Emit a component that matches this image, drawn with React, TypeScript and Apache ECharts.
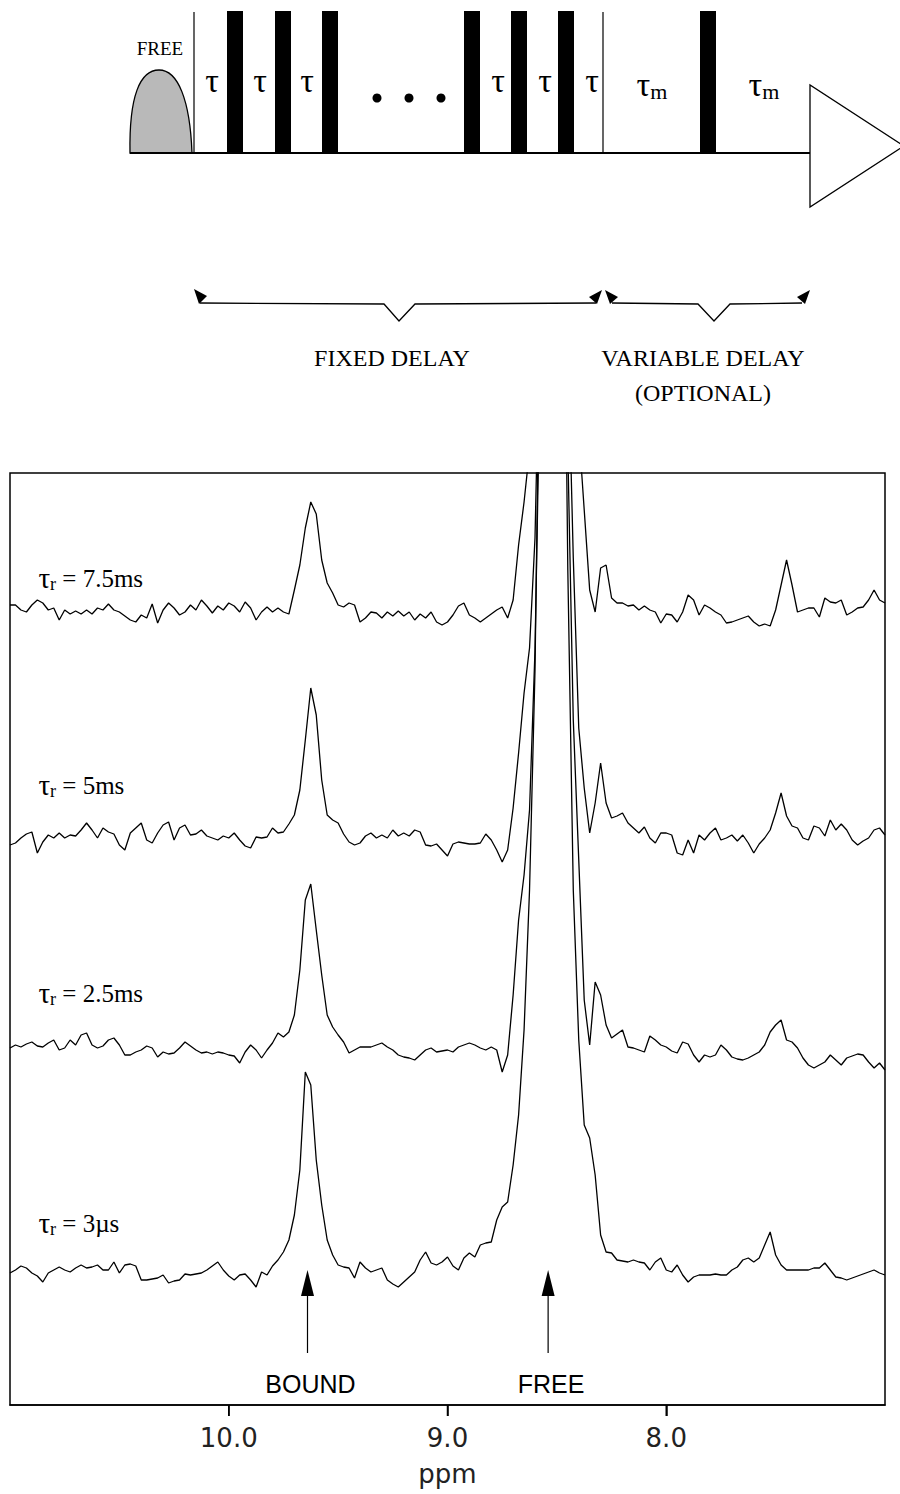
import React, { useEffect, useRef } from "react";
import * as echarts from "echarts";

// ---------------- data ----------------
// sampling grid of the spectra (ppm, decreasing to the right)
const PPM_START = 11.0;
const PPM_STEP = 0.025;
const PPM_MIN = 7.0;
const PPM_MAX = 11.0;
const PPM_TICKS = [10, 9, 8];

const TRACE_LABELS = ["7.5ms", "5ms", "2.5ms", "3µs"];
// vertical stacking offset of every trace (intensity units)
const TRACE_OFFSETS = [795, 567, 355, 135];
const TRACE_LABEL_PPM = 10.87;
const TRACE_LABEL_Y = [827, 620, 412, 182];

// intensities, relative to each trace's baseline
const TRACE_7_5MS = [
  5, 5, 0, -2, 5, 10, 7, 0, 2, -10,
  0, -4, -1, -4, 0, -4, 2, 0, 6, 0,
  -2, -6, -10, -12, -5, -8, 6, -13, 0, 7,
  2, -5, -2, 5, 0, 10, 4, -3, 4, 0,
  7, 4, -2, 8, 2, -10, -2, 3, -2, 2,
  -2, -4, 20, 45, 82, 108, 96, 50, 27, 17,
  5, 3, 7, 5, -12, -8, -2, -3, -8, -2,
  -6, -1, -6, -2, -10, -4, -8, -2, -12, -15,
  -12, -5, 4, 7, -5, -8, -12, -8, -4, 0,
  3, -8, 10, 65, 108, 160, 250, 500, 900, 1300,
  1200, 800, 450, 280, 180, 100, 20, -2, 42, 45,
  12, 7, 7, 4, 5, 0, 4, 0, -2, -13,
  -4, -5, -12, -2, 15, 10, -5, 5, 2, -2,
  -5, -13, -12, -10, -8, -6, -12, -16, -14, -16,
  0, 25, 50, 25, -2, 0, 2, 2, -7, 12,
  8, 7, 10, -5, -2, 2, 3, 10, 20, 10, 7,
];
const TRACE_5MS = [
  -7, -5, 0, 4, 6, -15, -4, 3, 0, 5,
  0, 3, 2, 8, 15, 8, 0, 10, 6, 4,
  -7, -12, 5, 10, 15, -2, -5, 5, 13, 16,
  -2, 10, 13, 3, 4, 8, 2, 0, -2, 2,
  0, 5, -2, -8, -10, 1, 0, 1, 10, 5,
  6, 14, 23, 48, 98, 150, 123, 58, 23, 18,
  15, 4, -4, -7, -5, 2, 5, 0, 3, 0,
  8, 2, 5, 2, 8, 6, -7, -8, -6, -12,
  -18, -6, -4, -5, -6, -6, -5, 4, -2, -12,
  -24, -12, 30, 85, 145, 190, 300, 550, 1000, 1400,
  1300, 850, 500, 280, 110, 50, 5, 35, 75, 35,
  20, 22, 25, 15, 10, 5, 11, 0, -5, 5,
  5, 3, -15, -17, -2, -15, 3, -2, 5, 10,
  -2, 0, 3, -3, 3, -5, -15, -6, 0, 8,
  25, 45, 22, 12, 10, 0, -2, 12, 10, 2,
  18, 8, 14, 8, -2, -7, -3, 0, 8, 10, 3,
];
const TRACE_2_5MS = [
  2, 5, 3, 6, 8, 4, 3, 7, 10, 0,
  2, 10, 5, 15, 17, 5, 2, 4, 10, 12,
  5, -5, -5, -2, 0, 4, 2, -7, -2, -4,
  -3, 2, 8, 4, 0, -3, -2, -4, -2, -3,
  -5, -6, -13, -2, 5, 0, -8, 0, 7, 17,
  13, 18, 35, 80, 150, 166, 120, 75, 35, 23,
  15, 8, -3, 0, 3, 3, 3, 5, 7, 3,
  0, -5, -7, -8, -10, -5, 0, 2, -2, -1,
  0, -2, 3, 5, 7, 5, 2, 0, 3, 0,
  -22, -5, 55, 130, 175, 240, 400, 700, 1200, 1600,
  1500, 1000, 600, 330, 190, 50, 5, 68, 55, 25,
  12, 16, 20, 3, 2, 0, -2, 14, 10, 5,
  3, -1, -3, 8, 6, -5, -12, -5, -7, -5,
  5, 0, -7, -9, -10, -8, -5, -2, 5, 18,
  25, 30, 10, 8, 2, -8, -15, -18, -15, -12,
  -5, -10, -15, -8, -6, -4, -5, -12, -18, -13, -20,
];
const TRACE_3US = [
  -3, 0, 4, 2, -3, -6, -12, -3, 0, 3,
  0, -2, 2, 5, 2, 3, 5, 0, 0, 8,
  -3, 5, 6, 4, -10, -10, -9, -8, -5, -13,
  -11, -10, -4, -5, -4, -3, 0, 4, 8, 0,
  -6, -10, -5, -4, -10, -17, -2, -5, 4, 10,
  18, 30, 55, 100, 198, 185, 110, 65, 30, 15,
  5, 3, 2, -8, 8, 2, -2, 0, 2, -10,
  -14, -17, -12, -7, -2, 10, 18, 7, 5, 8,
  13, 4, 0, 12, 17, 13, 25, 27, 28, 50,
  63, 68, 105, 155, 240, 380, 600, 1000, 1500, 1900,
  1800, 1200, 700, 380, 230, 145, 132, 95, 35, 18,
  17, 10, 9, 8, 10, 8, 7, 0, 8, 12,
  0, -2, 5, -5, -12, -7, -5, -5, -5, -4,
  -5, -5, 0, 3, 10, 12, 8, 12, 25, 38,
  15, 5, 0, 0, 0, 0, 0, 2, 2, 7,
  0, -7, -8, -10, -8, -6, -4, -2, 0, -3, -5,
];
const TRACES = [TRACE_7_5MS, TRACE_5MS, TRACE_2_5MS, TRACE_3US];

// annotation arrows under the peaks
const ARROW_PPM = [9.64, 8.54];
const ARROW_LABELS = ["BOUND", "FREE"];

// pulse-sequence labels
const TAU = "τ";
const SEQ_LABELS = ["FIXED DELAY", "VARIABLE DELAY", "(OPTIONAL)"];

// ---------------- shapes ----------------
echarts.graphic.registerShape(
  "freePulse",
  echarts.graphic.extendPath(
    "M130 153 C129 96 140 70 159 70 C178 70 190 100 192 153 Z",
    {}
  )
);

const SERIF = "'Liberation Serif', 'Times New Roman', serif";
const SANS = "'Liberation Sans', Arial, sans-serif";
const THIN = "'DejaVu Sans', sans-serif";

function pulseDiagram(): any[] {
  const els: any[] = [];
  const black = "#000";
  els.push({
    type: "freePulse",
    style: { fill: "#b9b9b9", stroke: black, lineWidth: 1.3 },
  });
  els.push({
    type: "text",
    style: { text: "FREE", x: 160, y: 48, align: "center", verticalAlign: "middle", font: `19px ${SERIF}`, fill: black },
  });
  els.push({ type: "line", shape: { x1: 130, y1: 153, x2: 811, y2: 153 }, style: { stroke: black, lineWidth: 2 } });
  [194, 603].forEach((x) =>
    els.push({ type: "line", shape: { x1: x, y1: 12, x2: x, y2: 153 }, style: { stroke: black, lineWidth: 1.2 } })
  );
  [227, 275, 322, 464, 511, 558, 700].forEach((x) =>
    els.push({ type: "rect", shape: { x, y: 11, width: 16, height: 142 }, style: { fill: black } })
  );
  [212, 260, 307, 498, 545, 592].forEach((x) =>
    els.push({
      type: "text",
      style: { text: TAU, x, y: 80, align: "center", verticalAlign: "middle", font: `34px ${SERIF}`, fill: black },
    })
  );
  [652, 764].forEach((x) =>
    els.push({
      type: "text",
      style: {
        text: `{t|${TAU}}{s|m}`,
        x,
        y: 84,
        align: "center",
        verticalAlign: "middle",
        rich: {
          t: { fontSize: 34, fontFamily: SERIF, fill: black },
          s: { fontSize: 22, fontFamily: SERIF, fill: black, padding: [14, 0, 0, 0] },
        },
      },
    })
  );
  [377, 409, 441].forEach((x) =>
    els.push({ type: "circle", shape: { cx: x, cy: 98, r: 4.5 }, style: { fill: black } })
  );
  els.push({
    type: "polygon",
    shape: { points: [[810, 85], [810, 207], [904, 146]] },
    style: { fill: "#fff", stroke: black, lineWidth: 1.3 },
  });
  els.push({
    type: "polyline",
    shape: { points: [[200, 303], [384, 304], [399, 321], [415, 304], [596, 303]] },
    style: { stroke: black, lineWidth: 1.3, fill: "none" },
  });
  els.push({
    type: "polyline",
    shape: { points: [[612, 303], [698, 304], [714, 321], [730, 304], [802, 303]] },
    style: { stroke: black, lineWidth: 1.3, fill: "none" },
  });
  const heads = [
    [[194, 289], [207, 296], [199, 304]],
    [[602, 290], [589, 297], [597, 304]],
    [[605, 290], [610, 304], [618, 297]],
    [[810, 290], [797, 297], [805, 304]],
  ];
  heads.forEach((p) => els.push({ type: "polygon", shape: { points: p }, style: { fill: black } }));
  els.push({
    type: "text",
    style: { text: SEQ_LABELS[0], x: 392, y: 358, align: "center", verticalAlign: "middle", font: `24px ${SERIF}`, fill: black },
  });
  els.push({
    type: "text",
    style: { text: SEQ_LABELS[1], x: 703, y: 358, align: "center", verticalAlign: "middle", font: `24px ${SERIF}`, fill: black },
  });
  els.push({
    type: "text",
    style: { text: SEQ_LABELS[2], x: 703, y: 393, align: "center", verticalAlign: "middle", font: `24px ${SERIF}`, fill: black },
  });
  return els;
}

export default function App() {
  const ref = useRef<HTMLDivElement>(null);

  useEffect(() => {
    if (!ref.current) return;
    const chart = echarts.init(ref.current, undefined, { renderer: "svg" });

    const series = TRACES.map((trace, k) => ({
      type: "line",
      name: TRACE_LABELS[k],
      data: trace.map((v, i) => [PPM_START - i * PPM_STEP, TRACE_OFFSETS[k] + v]),
      showSymbol: false,
      symbol: "none",
      clip: true,
      silent: true,
      lineStyle: { color: "#000", width: 1.3 },
    }));

    chart.setOption({
      animation: false,
      backgroundColor: "#fff",
      textStyle: { color: "#000" },
      grid: {
        left: 10,
        right: 15,
        top: 473,
        bottom: 89,
        show: true,
        borderColor: "#000",
        borderWidth: 1.5,
        backgroundColor: "transparent",
      },
      xAxis: {
        type: "value",
        min: PPM_MIN,
        max: PPM_MAX,
        interval: 1,
        inverse: true,
        axisLine: { show: true, onZero: false, lineStyle: { color: "#000", width: 1.5 } },
        axisTick: {
          show: true,
          inside: false,
          length: 11,
          customValues: PPM_TICKS,
          lineStyle: { color: "#000", width: 1.5 },
        },
        axisLabel: {
          customValues: PPM_TICKS,
          formatter: (v: number) => (v > PPM_MIN && v < PPM_MAX ? v.toFixed(1) : ""),
          fontSize: 26,
          fontFamily: THIN,
          fontWeight: "normal",
          color: "#222",
          margin: 20,
        },
        splitLine: { show: false },
        name: "ppm",
        nameLocation: "middle",
        nameGap: 56,
        nameTextStyle: { fontSize: 26, fontFamily: THIN, fontWeight: "normal", color: "#222" },
      },
      yAxis: { type: "value", min: 0, max: 932, show: false },
      series,
    });

    const px = (ppm: number, v: number) =>
      chart.convertToPixel({ gridIndex: 0 }, [ppm, v]) as number[];

    const annotations: any[] = [];
    TRACE_LABELS.forEach((lab, k) => {
      const [x, y] = px(TRACE_LABEL_PPM, TRACE_LABEL_Y[k]);
      annotations.push({
        type: "text",
        style: {
          text: `{g|${TAU}}{s|r}{t| = ${lab}}`,
          x,
          y,
          align: "left",
          verticalAlign: "middle",
          rich: {
            g: { fontSize: 29, fontFamily: SERIF, fill: "#000" },
            t: { fontSize: 25, fontFamily: SERIF, fill: "#000" },
            s: { fontSize: 18, fontFamily: SERIF, fill: "#000", padding: [12, 0, 0, 0] },
          },
        },
      });
    });
    ARROW_PPM.forEach((ppm, k) => {
      const [x, yTip] = px(ppm, 135);
      const [, yBase] = px(ppm, 109);
      const [, yEnd] = px(ppm, 52);
      const [, yLab] = px(ppm, 21);
      annotations.push({
        type: "line",
        shape: { x1: x, y1: yBase, x2: x, y2: yEnd },
        style: { stroke: "#000", lineWidth: 1.2 },
      });
      annotations.push({
        type: "polygon",
        shape: { points: [[x, yTip], [x - 6.5, yBase], [x + 6.5, yBase]] },
        style: { fill: "#000" },
      });
      annotations.push({
        type: "text",
        style: {
          text: ARROW_LABELS[k],
          x: x + 3,
          y: yLab,
          align: "center",
          verticalAlign: "middle",
          font: `25px ${SANS}`,
          fill: "#000",
        },
      });
    });
    PPM_TICKS.forEach((t) => {
      const [x, y] = px(t, 0);
      annotations.push({
        type: "line",
        shape: { x1: x, y1: y, x2: x, y2: y + 11 },
        style: { stroke: "#000", lineWidth: 1.5 },
      });
    });

    chart.setOption({ graphic: [...pulseDiagram(), ...annotations] });

    return () => chart.dispose();
  }, []);

  return (
    <div
      ref={ref}
      style={{ position: "absolute", left: 0, top: 0, width: 900, height: 1494 }}
    />
  );
}
